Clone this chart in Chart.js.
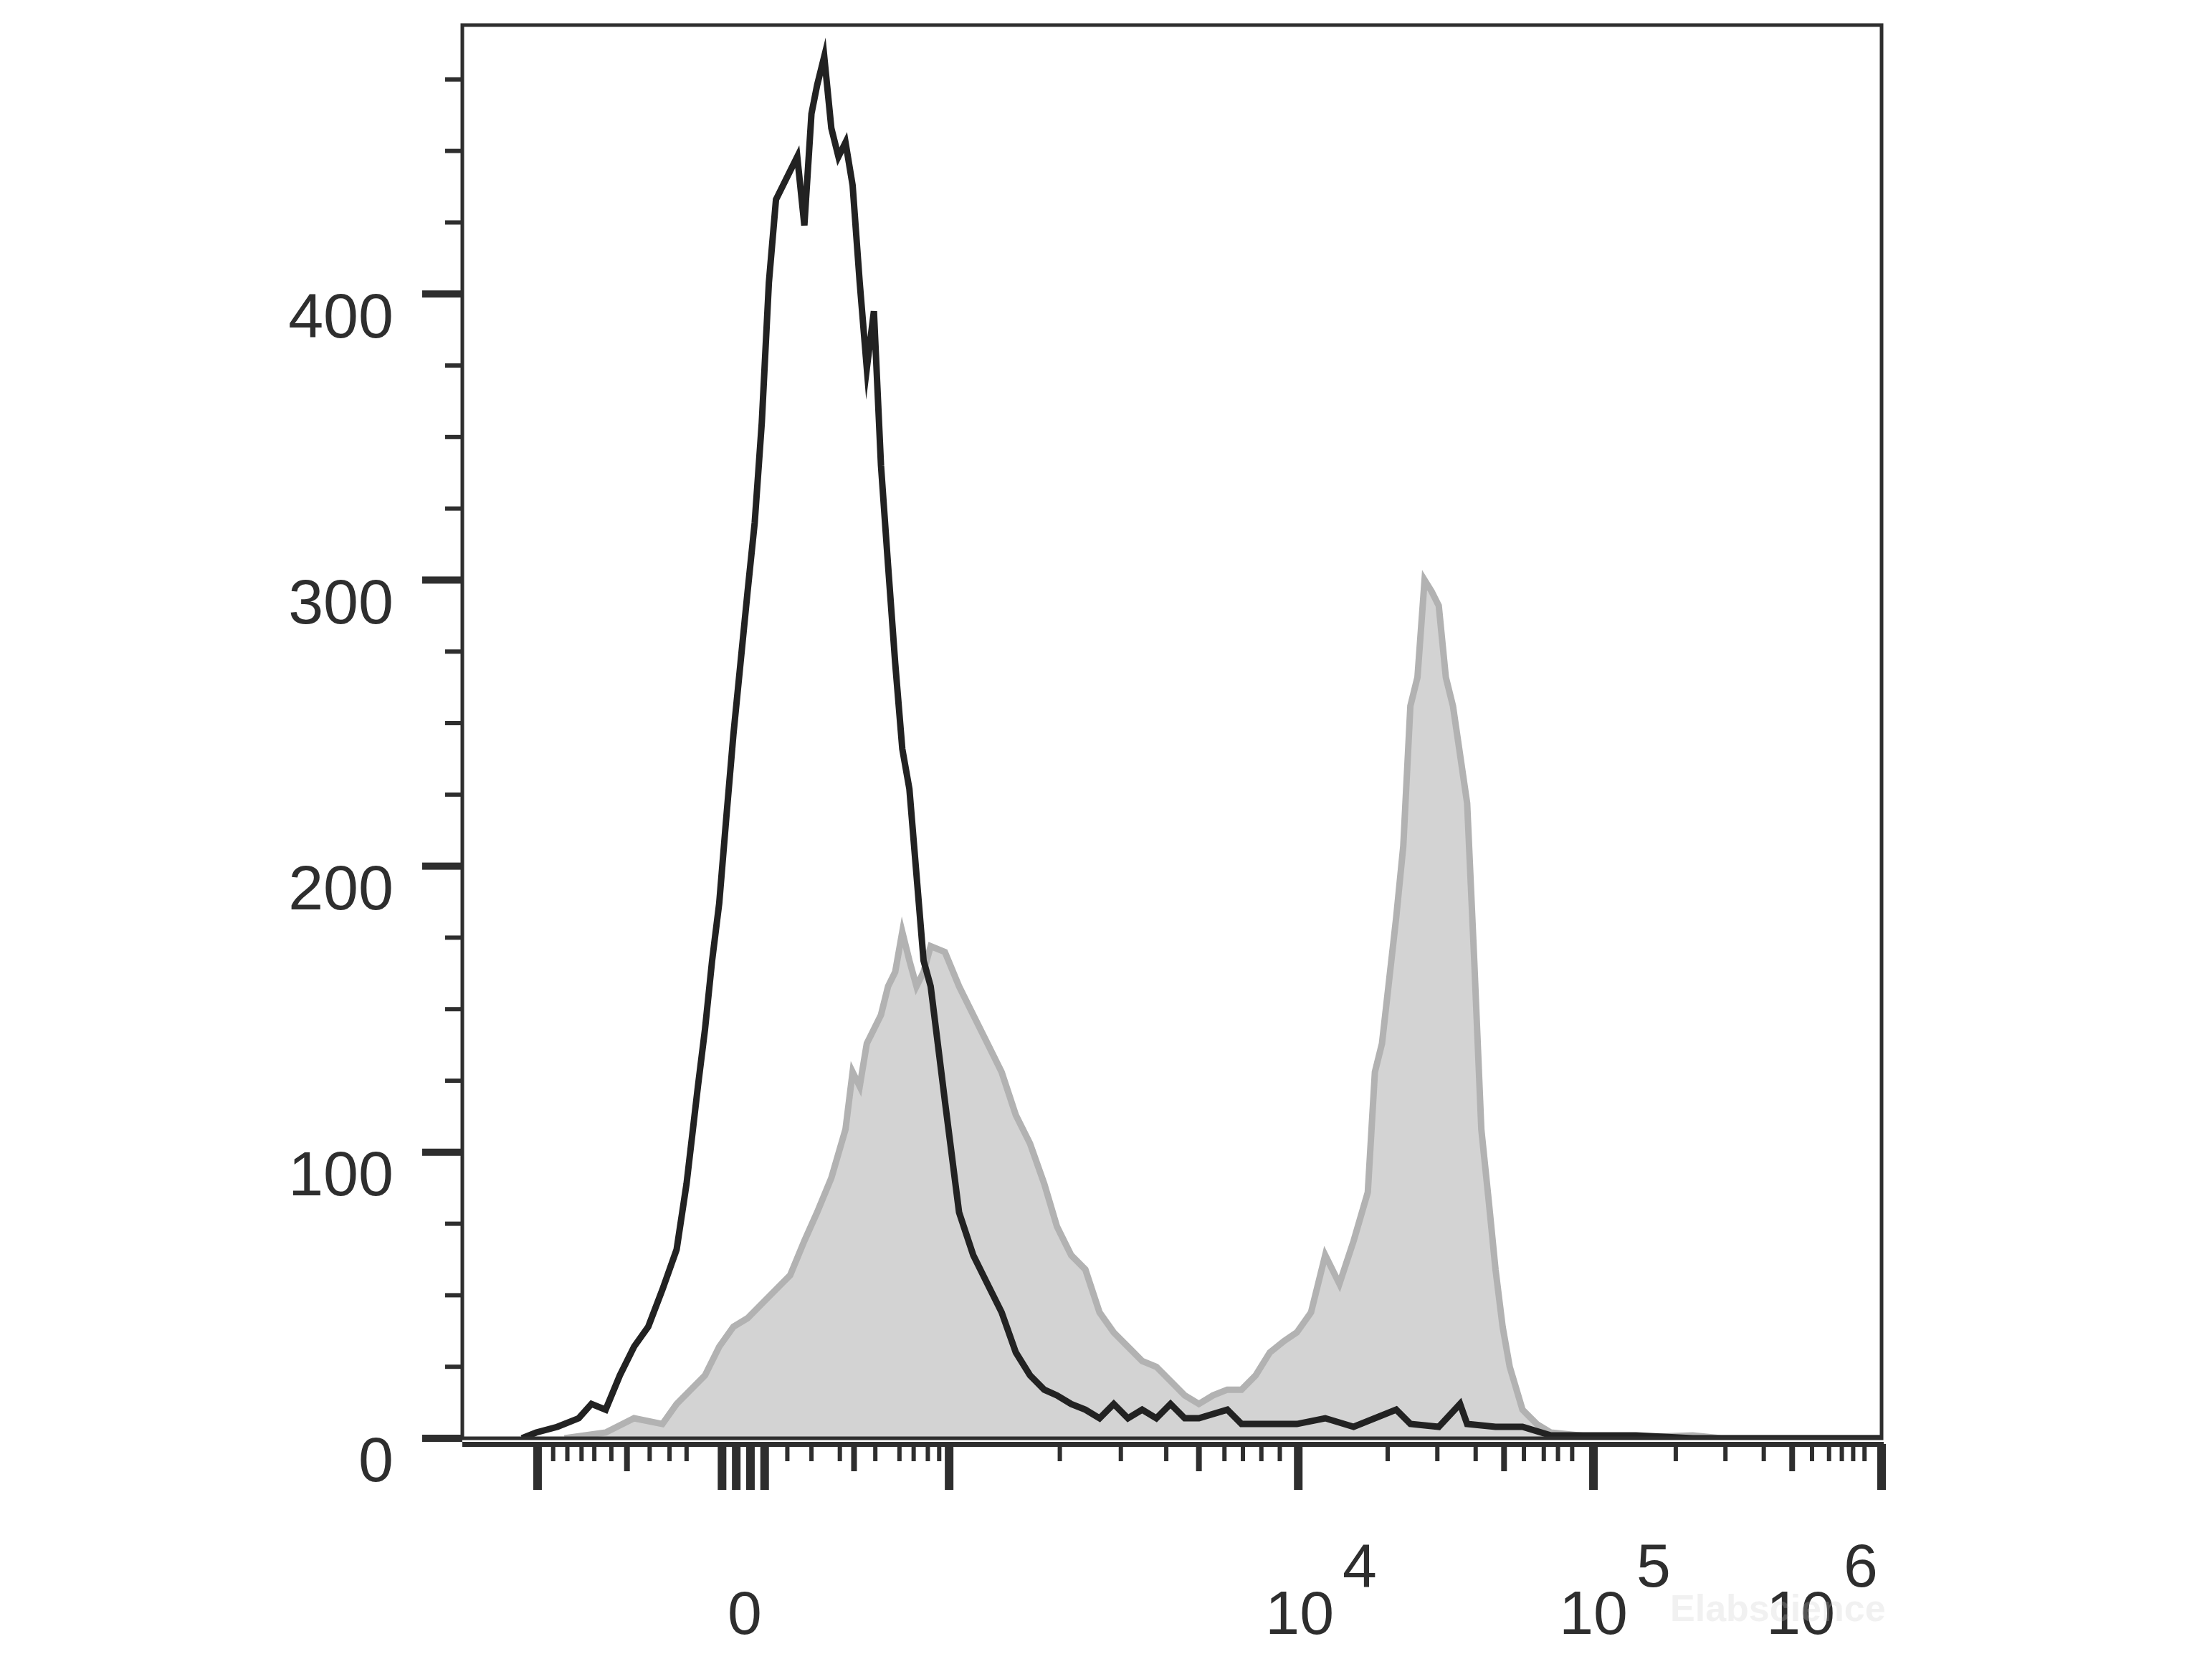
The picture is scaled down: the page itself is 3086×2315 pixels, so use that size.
<!DOCTYPE html>
<html>
<head>
<meta charset="utf-8">
<script src="https://cdn.jsdelivr.net/npm/chart.js@4.4.1/dist/chart.umd.min.js"></script>
<style>
  body { margin: 0; background: #fff; }
  canvas { display: block; }
</style>
</head>
<body>
<canvas id="histChart" width="3086" height="2315"></canvas>
<script>
// channel (0..1000 across the plot) and event count
const stainedPoints = [
  [72,0],[101,2],[121,7],[141,5],[151,12],[161,17],[171,22],[181,32],[191,39],[201,42],
  [211,47],[221,52],[231,57],[241,69],[250,79],[260,91],[270,108],[275,128],[280,123],[285,138],
  [290,143],[295,148],[300,158],[305,163],[310,177],[315,167],[320,158],[325,163],[330,172],[340,170],
  [350,158],[360,148],[370,138],[380,128],[390,113],[400,103],[410,89],[419,74],[429,64],[439,59],
  [449,44],[459,37],[469,32],[479,27],[489,25],[499,20],[509,15],[519,12],[529,15],[539,17],
  [549,17],[559,22],[569,30],[579,34],[588,37],[598,44],[608,64],[618,54],[628,69],[638,86],
  [643,128],[648,138],[658,182],[663,207],[668,256],[673,266],[678,300],[683,296],[688,291],[693,266],
  [698,256],[708,222],[713,167],[718,108],[723,84],[728,59],[733,39],[738,25],[747,10],[757,5],
  [767,2],[787,1],[807,0],[867,1],[887,0],[1000,0]
];
const controlPoints = [
  [42,0],[52,2],[67,4],[82,7],[91,12],[101,10],[111,22],[121,32],[131,39],[141,52],
  [151,66],[158,89],[166,123],[171,143],[176,167],[181,187],[186,217],[191,246],[196,271],[201,296],
  [206,320],[211,355],[216,404],[221,433],[226,438],[231,443],[236,448],[241,424],[246,463],[250,473],
  [255,483],[260,458],[265,448],[270,453],[275,438],[280,404],[285,374],[290,394],[295,340],[300,305],
  [305,271],[310,241],[315,227],[320,197],[325,167],[330,158],[340,118],[350,79],[360,64],[370,54],
  [380,44],[390,30],[400,22],[410,17],[419,15],[429,12],[439,10],[449,7],[459,12],[469,7],
  [479,10],[489,7],[499,12],[509,7],[519,7],[539,10],[549,5],[569,5],[588,5],[608,7],
  [628,4],[658,10],[668,5],[688,4],[703,12],[708,5],[728,4],[747,4],[767,1],[827,1],
  [867,0],[1000,0]
];
const yMajorTicks = [0, 100, 200, 300, 400];
const yMinorTicks = [25, 50, 75, 125, 150, 175, 225, 250, 275, 325, 350, 375, 425, 450, 475];
const xMajorTicks = [53, 183, 193, 203, 213, 343, 589, 797, 1000];
const xMediumTicks = [116, 276, 519, 734, 937];
const xMinorTicks = [64, 74, 84, 93, 105, 132, 146, 158, 229, 246, 266, 291, 308, 318, 328, 336,
  421, 464, 496, 537, 550, 563, 576, 652, 687, 714, 748, 762, 772, 782, 855, 890, 917, 951, 963, 972, 980, 988];
const xLabels = [
  { at: 199, base: '0', exp: '' },
  { at: 590, base: '10', exp: '4' },
  { at: 797, base: '10', exp: '5' },
  { at: 943, base: '10', exp: '6' }
];

const ink = '#2e2e2e';
const font = '"Liberation Sans", Arial, sans-serif';

const axesPlugin = {
  id: 'flowAxes',
  afterDraw(chart) {
    const c = chart.ctx, a = chart.chartArea;
    const xs = chart.scales.x, ys = chart.scales.y;
    c.save();
    c.strokeStyle = ink;
    c.lineWidth = 5;
    c.strokeRect(a.left, a.top, a.right - a.left, a.bottom - a.top);

    // y ticks
    c.fillStyle = ink;
    yMajorTicks.forEach(v => {
      const y = ys.getPixelForValue(v);
      c.fillRect(a.left - 56, y - 5, 56, 10);
    });
    yMinorTicks.forEach(v => {
      const y = ys.getPixelForValue(v);
      c.fillRect(a.left - 24, y - 3, 24, 6);
    });
    c.font = '88px ' + font;
    c.textAlign = 'right';
    c.textBaseline = 'middle';
    yMajorTicks.forEach(v => {
      c.fillText(String(v), a.left - 96, ys.getPixelForValue(v) + 36);
    });

    // x axis line and ticks
    const ax = a.bottom + 8;
    c.fillRect(a.left, ax - 3, a.right - a.left + 3, 7);
    xMajorTicks.forEach(v => {
      c.fillRect(xs.getPixelForValue(v) - 6, ax, 12, 64);
    });
    xMediumTicks.forEach(v => {
      c.fillRect(xs.getPixelForValue(v) - 4, ax, 8, 38);
    });
    xMinorTicks.forEach(v => {
      c.fillRect(xs.getPixelForValue(v) - 3, ax, 6, 24);
    });

    // x labels
    c.textBaseline = 'alphabetic';
    xLabels.forEach(l => {
      const x = xs.getPixelForValue(l.at);
      c.font = '86px ' + font;
      c.textAlign = 'center';
      c.fillText(l.base, x, 2280);
      if (l.exp) {
        const w = c.measureText(l.base).width;
        c.textAlign = 'left';
        c.fillText(l.exp, x + w / 2 + 12, 2214);
      }
    });

    // faint watermark
    c.font = 'bold 52px ' + font;
    c.fillStyle = 'rgba(200,200,200,0.25)';
    c.textAlign = 'left';
    c.fillText('Elabscience', 2330, 2262);
    c.restore();
  }
};

new Chart(document.getElementById('histChart'), {
  type: 'line',
  data: {
    datasets: [
      {
        label: 'Control',
        data: controlPoints.map(p => ({ x: p[0], y: p[1] })),
        borderColor: '#222222',
        borderWidth: 9,
        fill: false,
        pointRadius: 0,
        tension: 0
      },
      {
        label: 'Stained',
        data: stainedPoints.map(p => ({ x: p[0], y: p[1] })),
        borderColor: '#b2b2b2',
        backgroundColor: '#d3d3d3',
        borderWidth: 9,
        fill: 'origin',
        pointRadius: 0,
        tension: 0
      }
    ]
  },
  options: {
    responsive: false,
    animation: false,
    events: [],
    layout: { padding: { left: 645, right: 461, top: 35, bottom: 308 } },
    plugins: { legend: { display: false }, tooltip: { enabled: false } },
    scales: {
      x: { type: 'linear', min: 0, max: 1000, display: false },
      y: { type: 'linear', min: 0, max: 494, display: false }
    }
  },
  plugins: [axesPlugin]
});
</script>
</body>
</html>
